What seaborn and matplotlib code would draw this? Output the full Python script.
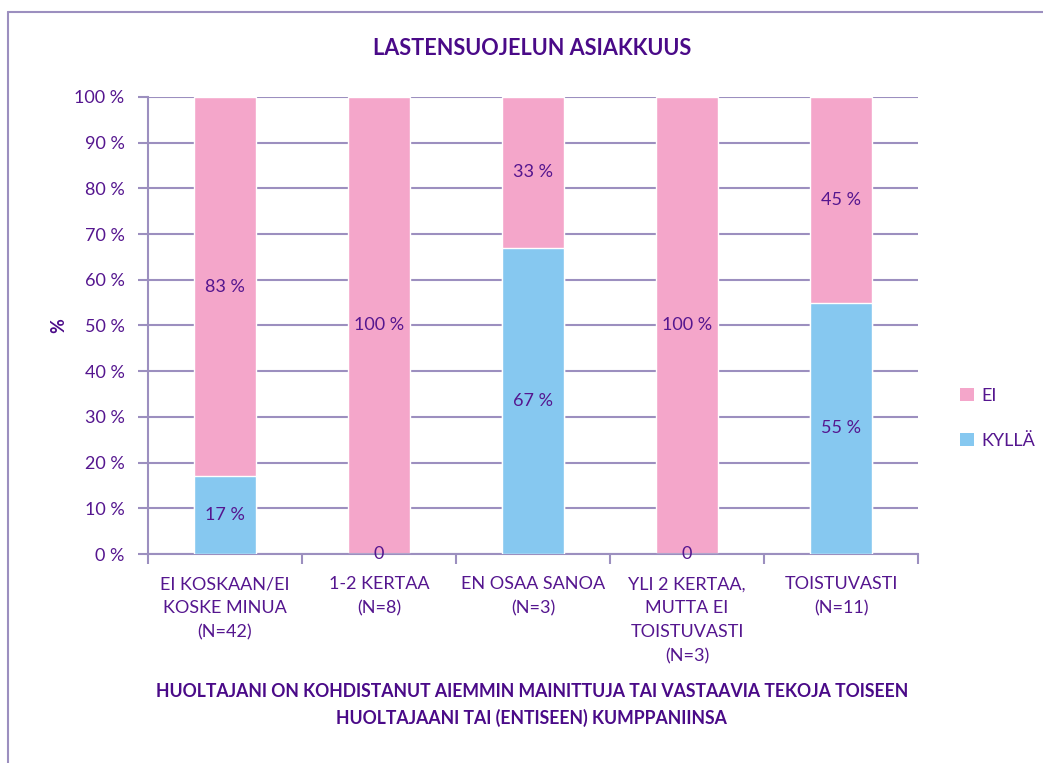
import matplotlib
matplotlib.use("Agg")
import matplotlib.pyplot as plt
import seaborn as sns
import pandas as pd
from matplotlib.patches import Patch
from matplotlib.lines import Line2D

# data
categories = [
    "EI KOSKAAN/EI\nKOSKE MINUA\n(N=42)",
    "1-2 KERTAA\n(N=8)",
    "EN OSAA SANOA\n(N=3)",
    "YLI 2 KERTAA,\nMUTTA EI\nTOISTUVASTI\n(N=3)",
    "TOISTUVASTI\n(N=11)",
]
kylla = [17, 0, 67, 0, 55]
ei = [83, 100, 33, 100, 45]
y_ticks = [0, 10, 20, 30, 40, 50, 60, 70, 80, 90, 100]

PINK = "#F4A6CA"
BLUE = "#86C8F0"
TEXT = "#55168F"
DARK = "#4A0A88"
GRID = "#9C8FBF"

df = pd.DataFrame({"cat": categories, "kylla": kylla, "ei": ei})
df["total"] = df["kylla"] + df["ei"]

sns.set_theme(style="white")
plt.rcParams["font.family"] = ["Lato", "DejaVu Sans"]

fig = plt.figure(figsize=(10.43, 7.63), dpi=100)
ax = fig.add_axes([0.1419, 0.2739, 0.7383, 0.5990])

# stacked look: full bar pink, blue drawn over it
sns.barplot(data=df, x="cat", y="total", color=PINK, width=0.4,
            saturation=1, ax=ax, zorder=2)
sns.barplot(data=df, x="cat", y="kylla", color=BLUE, width=0.4,
            saturation=1, ax=ax, zorder=3)

for i, (k, e) in enumerate(zip(kylla, ei)):
    ax.text(i, k + e / 2, f"{e} %", ha="center", va="center",
            fontsize=13, color=TEXT, zorder=5)
    if k == 0:
        ax.text(i, 0, "0", ha="center", va="center", fontsize=13,
                color=TEXT, zorder=5)
    else:
        ax.text(i, k / 2, f"{k} %", ha="center", va="center",
                fontsize=13, color=TEXT, zorder=5)

ax.set_xlim(-0.5, len(categories) - 0.5)
ax.set_ylim(0, 100)
ax.set_yticks(y_ticks)
ax.set_yticklabels([f"{t} %" for t in y_ticks])
ax.yaxis.grid(True, color=GRID, linewidth=1.5, zorder=0)
ax.set_axisbelow(True)

# category boundary ticks on x axis
ax.set_xticks(range(len(categories)))
ax.set_xticklabels(categories, linespacing=1.62)
ax.set_xticks([i - 0.5 for i in range(len(categories) + 1)], minor=True)
ax.tick_params(axis="x", which="major", length=0, pad=16,
               labelsize=13, labelcolor=TEXT)
ax.tick_params(axis="x", which="minor", length=7, width=1.5,
               color=GRID, direction="out", bottom=True)
ax.tick_params(axis="y", length=7, width=1.5, color=GRID,
               direction="out", left=True, labelsize=13,
               labelcolor=TEXT, pad=10)

for side in ["top", "right"]:
    ax.spines[side].set_visible(False)
for side in ["left", "bottom"]:
    ax.spines[side].set_color(GRID)
    ax.spines[side].set_linewidth(1.5)

ax.set_ylabel("%", fontsize=13, color=DARK, fontweight="bold", labelpad=5)
ax.set_xlabel("")

fig.text(0.51, 0.937, "LASTENSUOJELUN ASIAKKUUS", ha="center",
         va="center", fontsize=15.6, fontweight="bold", color=DARK)
fig.text(0.51, 0.076,
         "HUOLTAJANI ON KOHDISTANUT AIEMMIN MAINITTUJA TAI VASTAAVIA TEKOJA TOISEEN\n"
         "HUOLTAJAANI TAI (ENTISEEN) KUMPPANIINSA",
         ha="center", va="center", fontsize=12.7, fontweight="bold",
         color=DARK, linespacing=1.55)

handles = [Patch(facecolor=PINK, edgecolor="none", label="EI"),
           Patch(facecolor=BLUE, edgecolor="none", label="KYLLÄ")]
leg = fig.legend(handles=handles, loc="center left",
                 bbox_to_anchor=(0.905, 0.452), frameon=False,
                 handlelength=0.75, handleheight=0.75, handletextpad=0.4,
                 labelspacing=1.6, fontsize=13)
for t in leg.get_texts():
    t.set_color(TEXT)

# outer chart frame (only left and top visible in the crop)
fig.add_artist(Line2D([0.0077, 0.0077], [0, 0.984], color=GRID,
                      linewidth=1.5, transform=fig.transFigure))
fig.add_artist(Line2D([0.0077, 1], [0.984, 0.984], color=GRID,
                      linewidth=1.5, transform=fig.transFigure))

fig.savefig("out.png", dpi=100)
